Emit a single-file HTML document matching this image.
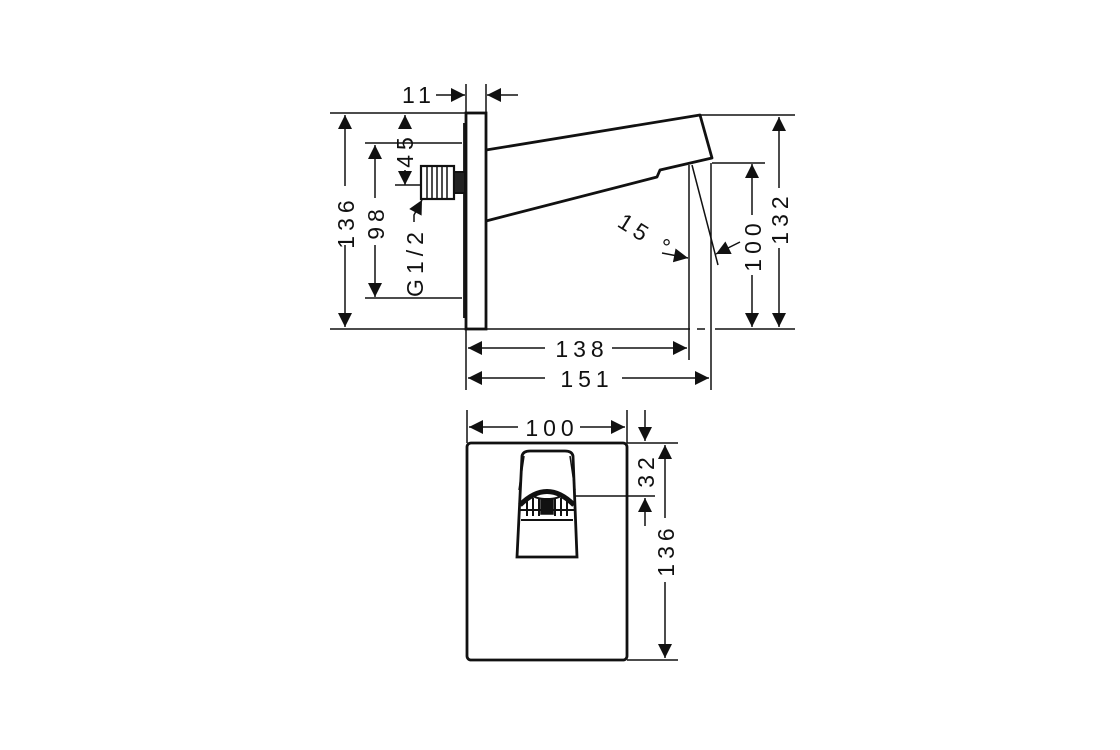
<!DOCTYPE html>
<html><head><style>html,body{margin:0;padding:0;background:#fff;}svg{display:block}text{font-family:"Liberation Sans",sans-serif;font-size:23px;fill:#111;letter-spacing:5px}</style></head>
<body>
<svg width="1120" height="750" viewBox="0 0 1120 750" xmlns="http://www.w3.org/2000/svg">
<defs>
<marker id="a" viewBox="0 0 10 10" refX="10" refY="5" markerWidth="19" markerHeight="14" markerUnits="userSpaceOnUse" orient="auto-start-reverse"><path d="M0,0 L10,5 L0,10 z" fill="#111"/></marker>
</defs>
<g stroke="#111" fill="none" stroke-width="1.5">
<rect x="466" y="113" width="20" height="216" stroke-width="2.8" fill="#fff"/>
<line x1="464" y1="123" x2="464" y2="318" stroke-width="1.8"/>
<path d="M486,150 L700,115 L712,158 L660,170 L657,177 L486,221" stroke-width="2.8" stroke-linejoin="round"/>
<rect x="421" y="166" width="33" height="33" stroke-width="2.2"/>
<path d="M427,166V199M432,166V199M437,166V199M442,166V199M447,166V199"/>
<rect x="454" y="172" width="11" height="21" stroke-width="2" fill="#222"/>
<line x1="330" y1="113" x2="466" y2="113"/>
<line x1="330" y1="329" x2="690" y2="329"/>
<line x1="697" y1="329" x2="705" y2="329"/>
<line x1="715" y1="329" x2="795" y2="329"/>
<line x1="365" y1="143" x2="462" y2="143"/>
<line x1="365" y1="298" x2="462" y2="298"/>
<line x1="395" y1="185" x2="421" y2="185"/>
<line x1="345" y1="115" x2="345" y2="186" marker-start="url(#a)"/>
<line x1="345" y1="245" x2="345" y2="327" marker-end="url(#a)"/>
<line x1="405" y1="115" x2="405" y2="128" marker-start="url(#a)"/>
<line x1="405" y1="170" x2="405" y2="185" marker-end="url(#a)"/>
<line x1="375" y1="145" x2="375" y2="198" marker-start="url(#a)"/>
<line x1="375" y1="245" x2="375" y2="297" marker-end="url(#a)"/>
<path d="M414,222 L414,215 L422,200" marker-end="url(#a)"/>
<line x1="436" y1="95" x2="465" y2="95" marker-end="url(#a)"/>
<line x1="518" y1="95" x2="487" y2="95" marker-end="url(#a)"/>
<line x1="466" y1="84" x2="466" y2="113"/>
<line x1="486" y1="84" x2="486" y2="113"/>
<line x1="700" y1="115" x2="795" y2="115"/>
<line x1="712" y1="163" x2="765" y2="163"/>
<line x1="689" y1="165" x2="689" y2="360"/>
<line x1="711" y1="163" x2="711" y2="390"/>
<line x1="692" y1="165" x2="718" y2="265"/>
<line x1="662" y1="253" x2="688" y2="258" marker-end="url(#a)"/>
<line x1="740" y1="242" x2="716" y2="254" marker-end="url(#a)"/>
<line x1="752" y1="164" x2="752" y2="215" marker-start="url(#a)"/>
<line x1="752" y1="275" x2="752" y2="327" marker-end="url(#a)"/>
<line x1="779" y1="117" x2="779" y2="188" marker-start="url(#a)"/>
<line x1="779" y1="248" x2="779" y2="327" marker-end="url(#a)"/>
<line x1="466" y1="329" x2="466" y2="390"/>
<line x1="468" y1="348" x2="545" y2="348" marker-start="url(#a)"/>
<line x1="612" y1="348" x2="687" y2="348" marker-end="url(#a)"/>
<line x1="468" y1="378" x2="545" y2="378" marker-start="url(#a)"/>
<line x1="622" y1="378" x2="709" y2="378" marker-end="url(#a)"/>
<rect x="467" y="443" width="160" height="217" rx="4" stroke-width="2.8"/>
<path d="M517,557 L522,456 Q523,451 530,451 L565,451 Q572,451 573,456 L577,557 Z" stroke-width="2.8"/>
<path d="M519,490 L524,456 M575,490 L570,456"/>
<path d="M520,505 Q547,478 574,505" stroke-width="5"/>
<path d="M520,510 L574,510 M521,520 L573,520" stroke-width="2"/>
<ellipse cx="547" cy="495" rx="14" ry="4" stroke-width="2"/>
<path d="M527,500V516M533,498V516M539,498V516M555,498V516M561,498V516M567,500V516" stroke-width="2"/>
<rect x="541" y="500" width="12" height="14" fill="#111"/>
<line x1="575" y1="496" x2="655" y2="496"/>
<line x1="467" y1="410" x2="467" y2="443"/>
<line x1="627" y1="410" x2="627" y2="443"/>
<line x1="469" y1="427" x2="518" y2="427" marker-start="url(#a)"/>
<line x1="580" y1="427" x2="625" y2="427" marker-end="url(#a)"/>
<line x1="627" y1="443" x2="678" y2="443"/>
<line x1="627" y1="660" x2="678" y2="660"/>
<line x1="645" y1="410" x2="645" y2="441" marker-end="url(#a)"/>
<line x1="645" y1="526" x2="645" y2="498" marker-end="url(#a)"/>
<line x1="665" y1="445" x2="665" y2="518" marker-start="url(#a)"/>
<line x1="665" y1="582" x2="665" y2="658" marker-end="url(#a)"/>
</g>
<text x="402" y="103">11</text>
<text transform="translate(354,222) rotate(-90)" text-anchor="middle">136</text>
<text transform="translate(413,150) rotate(-90)" text-anchor="middle">45</text>
<text transform="translate(384,222) rotate(-90)" text-anchor="middle">98</text>
<text transform="translate(423,262) rotate(-90)" text-anchor="middle">G1/2</text>
<text transform="translate(642,242) rotate(32)" text-anchor="middle">15 °</text>
<text transform="translate(761,245) rotate(-90)" text-anchor="middle">100</text>
<text transform="translate(788,218) rotate(-90)" text-anchor="middle">132</text>
<text x="582" y="357" text-anchor="middle">138</text>
<text x="587" y="387" text-anchor="middle">151</text>
<text x="552" y="436" text-anchor="middle">100</text>
<text transform="translate(654,470) rotate(-90)" text-anchor="middle">32</text>
<text transform="translate(674,550) rotate(-90)" text-anchor="middle">136</text>
</svg>
</body></html>
